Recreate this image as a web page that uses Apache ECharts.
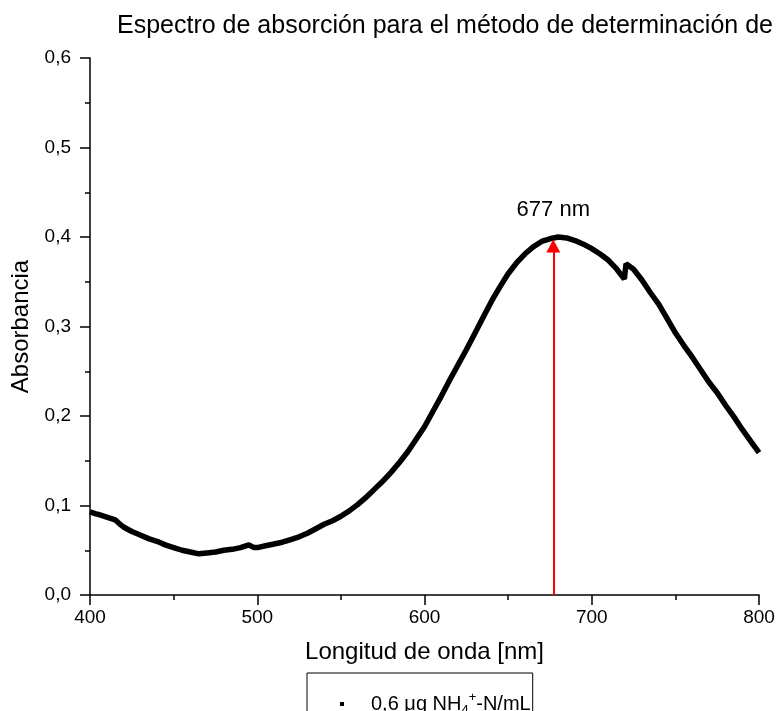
<!DOCTYPE html>
<html>
<head>
<meta charset="utf-8">
<script src="https://cdn.jsdelivr.net/npm/echarts@6/dist/echarts.min.js"></script>
<style>html,body{margin:0;padding:0;background:#fff;}#c{width:778px;height:711px;}</style>
</head>
<body>
<div id="c"></div>
<script>
// Wavelength (nm)
var wavelengths = [400,403,405,410,415,418,420,425,430,435,440,445,450,455,460,465,470,475,480,485,490,495,498,500,505,510,515,520,525,530,535,540,545,550,555,560,565,570,575,580,585,590,595,600,605,610,615,620,625,630,635,640,645,650,655,660,665,670,675,680,685,690,695,700,705,710,715,719.5,720.5,725,730,735,740,745,750,755,760,765,770,775,780,785,790,795,800];
// Absorbance
var absorbance = [0.093,0.091,0.090,0.087,0.084,0.079,0.076,0.071,0.067,0.063,0.060,0.056,0.053,0.050,0.048,0.046,0.047,0.048,0.050,0.051,0.053,0.056,0.053,0.053,0.055,0.057,0.059,0.062,0.065,0.069,0.074,0.079,0.083,0.088,0.094,0.101,0.109,0.118,0.127,0.137,0.148,0.160,0.174,0.188,0.205,0.222,0.240,0.257,0.274,0.292,0.310,0.328,0.344,0.359,0.371,0.381,0.389,0.395,0.398,0.400,0.399,0.396,0.392,0.387,0.381,0.374,0.364,0.353,0.370,0.364,0.352,0.338,0.325,0.309,0.293,0.279,0.266,0.252,0.238,0.226,0.212,0.199,0.185,0.172,0.159];
var peakWavelength = 677;
var peakArrowTop = 0.390;
var xTicks = [400, 500, 600, 700, 800];
var yTicks = [0.0, 0.1, 0.2, 0.3, 0.4, 0.5, 0.6];
var titleText = 'Espectro de absorción para el método de determinación de';
var seriesName = '0,6 μg NH4+-N/mL';

var FONT = '"Liberation Sans", Arial, sans-serif';
var data = wavelengths.map(function (w, i) { return [w, absorbance[i]]; });

var chart = echarts.init(document.getElementById('c'), null, {renderer: 'canvas'});
chart.setOption({
  animation: false,
  backgroundColor: '#fff',
  title: {
    text: titleText,
    left: 112, top: 9,
    textStyle: {fontFamily: FONT, fontSize: 25, fontWeight: 'normal', color: '#000'}
  },
  grid: {left: 90, right: 19, top: 58, bottom: 116, containLabel: false},
  xAxis: {
    type: 'value', min: xTicks[0], max: xTicks[xTicks.length - 1], interval: 100,
    name: 'Longitud de onda [nm]', nameLocation: 'middle', nameGap: 45,
    nameTextStyle: {fontFamily: FONT, fontSize: 24, color: '#000'},
    axisLine: {show: true, onZero: false, lineStyle: {color: '#000', width: 1.5}},
    axisTick: {show: true, inside: false, length: 10, lineStyle: {color: '#000', width: 1.5}},
    minorTick: {show: true, splitNumber: 2, length: 5, lineStyle: {color: '#000', width: 1.5}},
    axisLabel: {fontFamily: FONT, fontSize: 19, color: '#000', margin: 13},
    splitLine: {show: false}
  },
  yAxis: {
    type: 'value', min: yTicks[0], max: yTicks[yTicks.length - 1], interval: 0.1,
    name: 'Absorbancia', nameLocation: 'middle', nameGap: 49, nameRotate: 90,
    nameTextStyle: {fontFamily: FONT, fontSize: 24, color: '#000'},
    axisLine: {show: true, onZero: false, lineStyle: {color: '#000', width: 1.5}},
    axisTick: {show: true, inside: false, length: 10, lineStyle: {color: '#000', width: 1.5}},
    minorTick: {show: true, splitNumber: 2, length: 5, lineStyle: {color: '#000', width: 1.5}},
    axisLabel: {fontFamily: FONT, fontSize: 19, color: '#000', margin: 19,
      formatter: function (v) { return v.toFixed(1).replace('.', ','); }},
    splitLine: {show: false}
  },
  legend: {
    show: true,
    left: 307, top: 673,
    padding: [18, 2, 24, 33],
    borderColor: '#000', borderWidth: 1,
    itemWidth: 4, itemHeight: 4, icon: 'rect',
    data: [{name: seriesName, itemStyle: {color: '#000'}}],
    formatter: function () {
      return '{sp|}{m|0,6 μg NH}{sub|4}{sup|+}{m|-N/mL}';
    },
    textStyle: {
      fontFamily: FONT, fontSize: 20, color: '#000',
      rich: {
        sp: {width: 22},
        m: {fontFamily: FONT, fontSize: 20, color: '#000', lineHeight: 26},
        sub: {fontFamily: FONT, fontSize: 13, color: '#000', verticalAlign: 'bottom', lineHeight: 26, padding: [10, 0, 0, 0]},
        sup: {fontFamily: FONT, fontSize: 13, color: '#000', verticalAlign: 'top', lineHeight: 26, padding: [0, 0, 10, 0]}
      }
    }
  },
  series: [{
    name: seriesName,
    type: 'line',
    data: data,
    showSymbol: false,
    symbol: 'rect',
    lineStyle: {color: '#000', width: 5.5},
    itemStyle: {color: '#000'},
    z: 3,
    markLine: {
      silent: true,
      symbol: ['none', 'triangle'],
      symbolSize: [14, 13],
      lineStyle: {color: '#ff0000', width: 2, type: 'solid'},
      label: {show: true, position: 'end', formatter: '677 nm', distance: 25,
        fontFamily: FONT, fontSize: 22, color: '#000'},
      data: [[{coord: [peakWavelength, 0]}, {coord: [peakWavelength, peakArrowTop]}]],
      z: 4
    }
  }]
});
</script>
</body>
</html>
